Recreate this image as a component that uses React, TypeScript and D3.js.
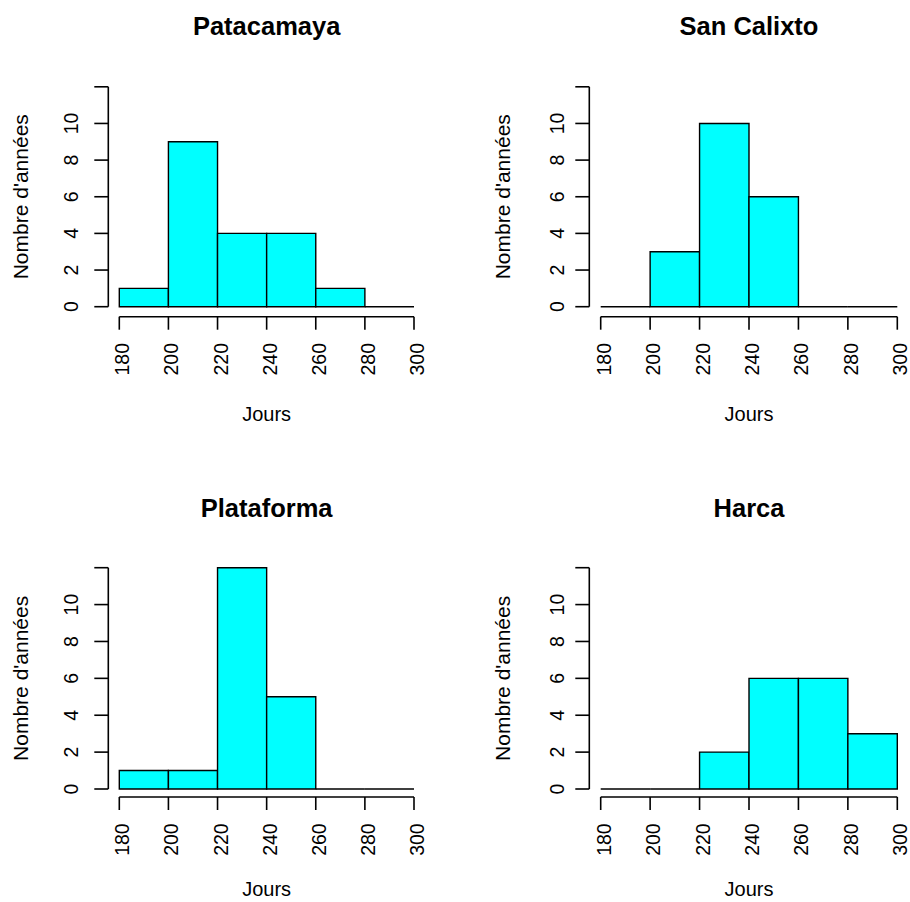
import React from "react";
import * as d3 from "d3";

const breaks = [180, 200, 220, 240, 260, 280, 300];
const stations = ["Patacamaya", "San Calixto", "Plataforma", "Harca"];
const patacamaya = [1, 9, 4, 4, 1, 0];
const sanCalixto = [0, 3, 10, 6, 0, 0];
const plataforma = [1, 1, 12, 5, 0, 0];
const harca = [0, 0, 2, 6, 6, 3];
const counts = [patacamaya, sanCalixto, plataforma, harca];
const xTicks = [180, 200, 220, 240, 260, 280, 300];
const yTicks = [0, 2, 4, 6, 8, 10, 12];
const yTickLabels = ["0", "2", "4", "6", "8", "10", ""];
const xLabel = "Jours";
const yLabel = "Nombre d'années";

const cols = [
  { axisX: 108.3, x0: 119.3, x1: 414, tickLab: 78, yTitle: 28 },
  { axisX: 589.3, x0: 600.7, x1: 897.3, tickLab: 563.5, yTitle: 510 },
];
const rows = [
  { y0: 306.7, y12: 86.8, xAxisY: 316.7, tickLabTop: 343, title: 35, xTitle: 421 },
  { y0: 789, y12: 567.7, xAxisY: 797, tickLabTop: 823.3, title: 517, xTitle: 896 },
];

const FONT = "'Liberation Sans', Arial, Helvetica, sans-serif";

function Panel({ idx }: { idx: number }) {
  const c = cols[idx % 2];
  const r = rows[Math.floor(idx / 2)];
  const x = d3.scaleLinear().domain([180, 300]).range([c.x0, c.x1]);
  const y = d3.scaleLinear().domain([0, 12]).range([r.y0, r.y12]);
  const data = counts[idx];
  const cx = (c.x0 + c.x1) / 2;
  const cy = (r.y0 + r.y12) / 2;
  return (
    <g>
      <text x={cx} y={r.title} textAnchor="middle" fontWeight="bold" fontSize={25.5} fontFamily={FONT}>
        {stations[idx]}
      </text>
      {data.map((v, i) => {
        const xa = x(breaks[i]);
        const xb = x(breaks[i + 1]);
        const yb = y(0);
        const yt = y(v);
        const p = d3.path();
        p.moveTo(xa, yb);
        p.lineTo(xa, yt);
        p.lineTo(xb, yt);
        p.lineTo(xb, yb);
        p.closePath();
        return <path key={i} d={p.toString()} fill="#00FFFF" stroke="#000" strokeWidth={1.4} />;
      })}
      {/* x axis */}
      <line x1={x(180)} x2={x(300)} y1={r.xAxisY} y2={r.xAxisY} stroke="#000" strokeWidth={1.6} />
      {xTicks.map((t) => (
        <g key={t}>
          <line x1={x(t)} x2={x(t)} y1={r.xAxisY} y2={r.xAxisY + 13} stroke="#000" strokeWidth={1.6} />
          <text
            transform={`translate(${x(t) + 10},${r.tickLabTop}) rotate(-90)`}
            textAnchor="end"
            fontSize={19.5}
            fontFamily={FONT}
          >
            {t}
          </text>
        </g>
      ))}
      <text x={cx} y={r.xTitle} textAnchor="middle" fontSize={20} fontFamily={FONT}>
        {xLabel}
      </text>
      {/* y axis */}
      <line x1={c.axisX} x2={c.axisX} y1={y(0)} y2={y(12)} stroke="#000" strokeWidth={1.6} />
      {yTicks.map((t, i) => (
        <g key={t}>
          <line x1={c.axisX - 14} x2={c.axisX} y1={y(t)} y2={y(t)} stroke="#000" strokeWidth={1.6} />
          <text
            transform={`translate(${c.tickLab},${y(t)}) rotate(-90)`}
            textAnchor="middle"
            fontSize={19.5}
            fontFamily={FONT}
          >
            {yTickLabels[i]}
          </text>
        </g>
      ))}
      <text
        transform={`translate(${c.yTitle},${cy}) rotate(-90)`}
        textAnchor="middle"
        fontSize={21}
        fontFamily={FONT}
      >
        {yLabel}
      </text>
    </g>
  );
}

export default function App() {
  return (
    <svg
      width={910}
      height={902}
      style={{ position: "absolute", left: 0, top: 0, background: "#fff" }}
    >
      <rect x={0} y={0} width={910} height={902} fill="#fff" />
      {[0, 1, 2, 3].map((i) => (
        <Panel key={i} idx={i} />
      ))}
    </svg>
  );
}
